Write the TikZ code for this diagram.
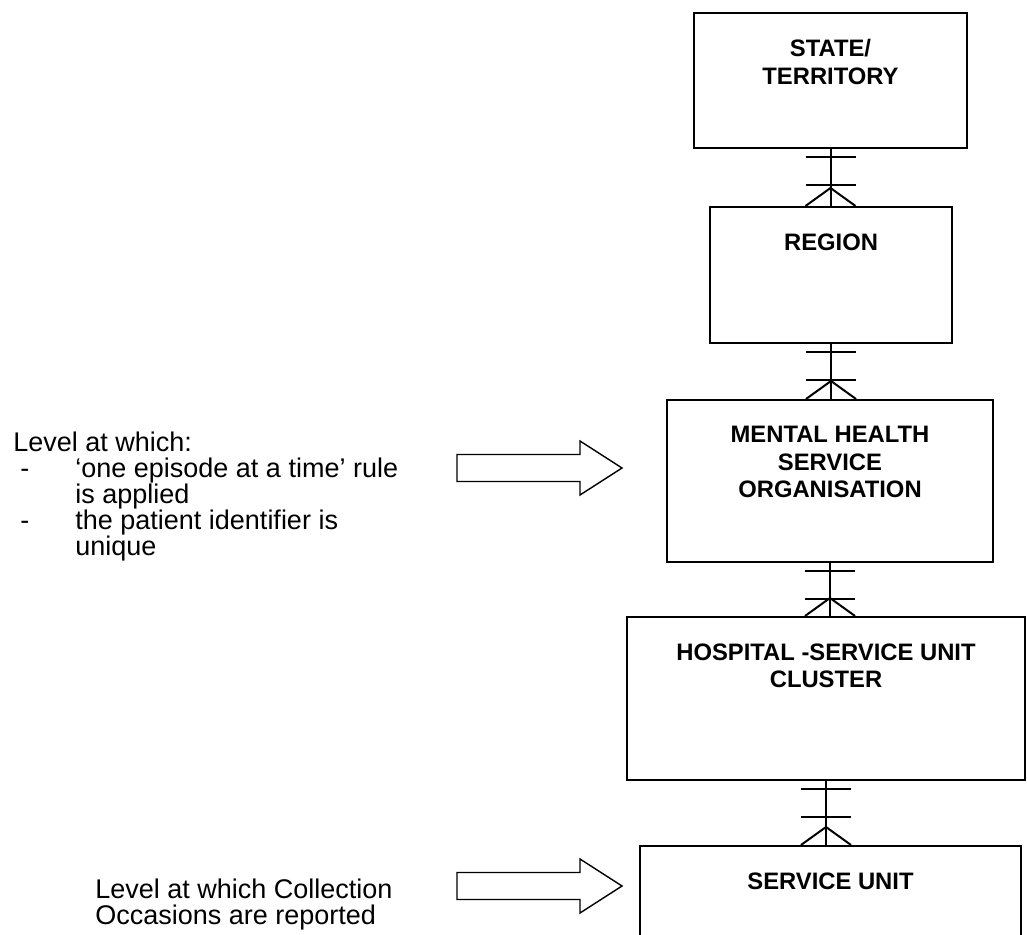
\documentclass[tikz,border=0pt]{standalone}
\usepackage{fontspec}
\setmainfont{Liberation Sans}
\usetikzlibrary{positioning}

\tikzset{
  level/.style={draw, line width=1pt, inner sep=0pt},
  leveltext/.style={font=\bfseries\fontsize{11.9}{13.75}\selectfont, align=center, inner sep=0pt},
  note/.style={font=\fontsize{13.5}{13}\selectfont, align=left, inner sep=0pt},
  hollow/.style={draw, line width=0.7pt, fill=white, line join=miter}
}

% one-to-many link: two bars under the upper box, crow's foot on the lower one
\newcommand{\erlink}[2]{%
  \coordinate (#2top) at (#1.south |- #2.north);
  \draw[line width=1pt] (#1.south) -- (#2top);
  \draw[line width=1pt] ([xshift=-12.5pt,yshift=-4pt]#1.south) -- ([xshift=12.5pt,yshift=-4pt]#1.south);
  \draw[line width=1pt] ([xshift=-12.5pt,yshift=-18pt]#1.south) -- ([xshift=12.5pt,yshift=-18pt]#1.south);
  \draw[line width=1pt] ([xshift=-12.5pt]#2top) -- ([yshift=9pt]#2top) -- ([xshift=12.5pt]#2top);
}

% block arrow, #1 = middle of its left end
\newcommand{\blockarrow}[1]{%
  \draw[hollow] (#1) ++(0,-13.5) -- ++(123,0) -- ++(0,-13.5) -- ++(42,27)
    -- ++(-42,27) -- ++(0,-13.5) -- ++(-123,0) -- cycle;
}

\begin{document}
\begin{tikzpicture}[x=0.5pt, y=-0.5pt]

\clip (0,0) rectangle (1027,935);

% levels
\node[level, minimum width=136.5pt, minimum height=67.5pt] (state) at (830.5,80.5) {};
\node[level, minimum width=121pt, minimum height=68pt] (region) at (831,275) {};
\node[level, minimum width=163pt, minimum height=81pt] (mhso) at (830,481) {};
\node[level, minimum width=199pt, minimum height=81.5pt] (cluster) at (826,698.5) {};
\node[level, minimum width=190.5pt, minimum height=75pt] (unit) at (830.5,921) {};

\node[leveltext, below=13.5pt of state.north] (statetext) {STATE/\\TERRITORY};
\node[leveltext, below=13.5pt of region.north] (regiontext) {REGION};
\node[leveltext, below=13.5pt of mhso.north] (mhsotext) {MENTAL HEALTH\\SERVICE\\ORGANISATION};
\node[leveltext, below=13.5pt of cluster.north] (clustertext) {HOSPITAL -SERVICE UNIT\\CLUSTER};
\node[leveltext, below=13.5pt of unit.north] (unittext) {SERVICE UNIT};

\erlink{state}{region}
\erlink{region}{mhso}
\erlink{mhso}{cluster}
\erlink{cluster}{unit}

% notes on the left
\node[note, anchor=north west] (episode) at (13,432) {Level at which:\\
\makebox[31pt][l]{\hspace*{3.5pt}-}‘one episode at a time’ rule\\
\hspace*{31pt}is applied\\
\makebox[31pt][l]{\hspace*{3.5pt}-}the patient identifier is\\
\hspace*{31pt}unique};
\node[note, anchor=north west] (occasion) at (95,879) {Level at which Collection\\Occasions are reported};

\coordinate (arrowA) at (457,468);
\coordinate (arrowB) at (457,886);
\blockarrow{arrowA}
\blockarrow{arrowB}

\end{tikzpicture}
\end{document}
